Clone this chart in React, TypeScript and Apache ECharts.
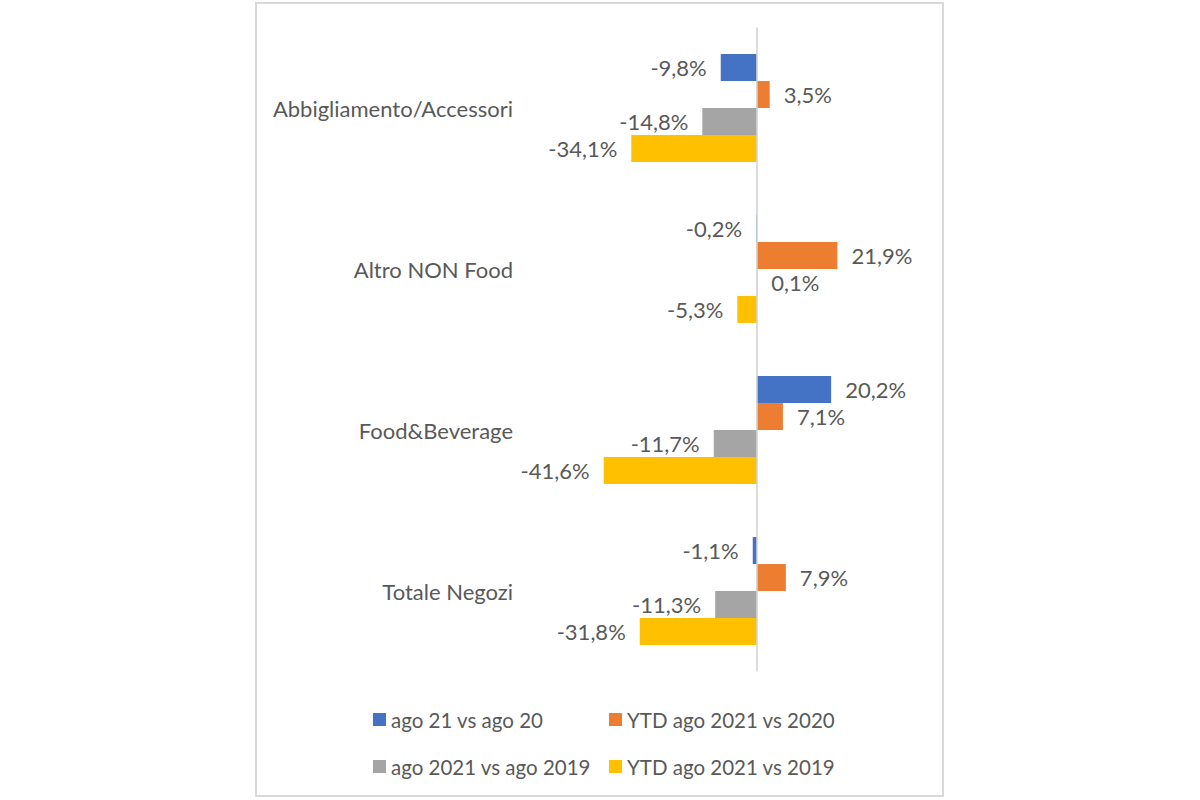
import React, { useEffect, useRef } from "react";
import * as echarts from "echarts";

const categories = ["Abbigliamento/Accessori", "Altro NON Food", "Food&Beverage", "Totale Negozi"];
const seriesNames = ["ago 21 vs ago 20", "YTD ago 2021 vs 2020", "ago 2021 vs ago 2019", "YTD ago 2021 vs 2019"];
const ago21vs20 = [-9.8, -0.2, 20.2, -1.1];
const ytd21vs20 = [3.5, 21.9, 7.1, 7.9];
const ago21vs19 = [-14.8, 0.1, -11.7, -11.3];
const ytd21vs19 = [-34.1, -5.3, -41.6, -31.8];
const colors = ["#4472C4", "#ED7D31", "#A5A5A5", "#FFC000"];

const FONT = "Lato, 'Open Sans', sans-serif";
const TEXT = "#595959";

export default function App() {
  const ref = useRef<HTMLDivElement>(null);
  useEffect(() => {
    if (!ref.current) return;
    const chart = echarts.init(ref.current, null, { renderer: "svg" });
    const values = [ago21vs20, ytd21vs20, ago21vs19, ytd21vs19];
    const fmt = (v: number) => v.toFixed(1).replace(".", ",") + "%";
    const series: any[] = values.map((vals, i) => ({
      name: seriesNames[i],
      type: "bar",
      barGap: "0%",
      barCategoryGap: "33%",
      itemStyle: { color: colors[i] },
      data: vals.map((v) => ({
        value: v,
        label: { position: v < 0 ? "left" : "right" },
      })),
      label: {
        show: true,
        distance: 14,
        color: TEXT,
        fontFamily: FONT,
        fontSize: 22,
        formatter: (p: any) => fmt(p.value),
      },
      markLine:
        i === 0
          ? {
              silent: true,
              symbol: "none",
              label: { show: false },
              lineStyle: { color: "#d0d0d0", type: "solid", width: 1.5 },
              data: [{ xAxis: 0 }],
            }
          : undefined,
    }));
    const legendPos = [
      { left: 373, top: 709 },
      { left: 609, top: 709 },
      { left: 373, top: 756 },
      { left: 609, top: 756 },
    ];
    chart.setOption({
      animation: false,
      backgroundColor: "#ffffff",
      grid: { left: 536, right: 296, top: 27.5, bottom: 128.5, containLabel: false },
      xAxis: {
        type: "value",
        min: -60,
        max: 40,
        show: false,
      },
      yAxis: {
        type: "category",
        inverse: true,
        data: categories,
        axisLine: { show: false, onZero: false },
        axisTick: { show: false },
        axisLabel: { margin: 23, color: TEXT, fontFamily: FONT, fontSize: 22 },
      },
      legend: legendPos.map((p, i) => ({
        left: p.left,
        top: p.top,
        data: [seriesNames[i]],
        icon: "rect",
        itemWidth: 13,
        itemHeight: 13,
        padding: 0,
        textStyle: { color: TEXT, fontFamily: FONT, fontSize: 20.5 },
      })),
      graphic: [
        {
          type: "rect",
          shape: { x: 256, y: 3, width: 687, height: 793 },
          style: { fill: "none", stroke: "#d9d9d9", lineWidth: 2 },
          silent: true,
        },
      ],
      series,
    });
    return () => chart.dispose();
  }, []);
  return (
    <div
      ref={ref}
      style={{ position: "absolute", left: 0, top: 0, width: 1200, height: 800 }}
    />
  );
}
